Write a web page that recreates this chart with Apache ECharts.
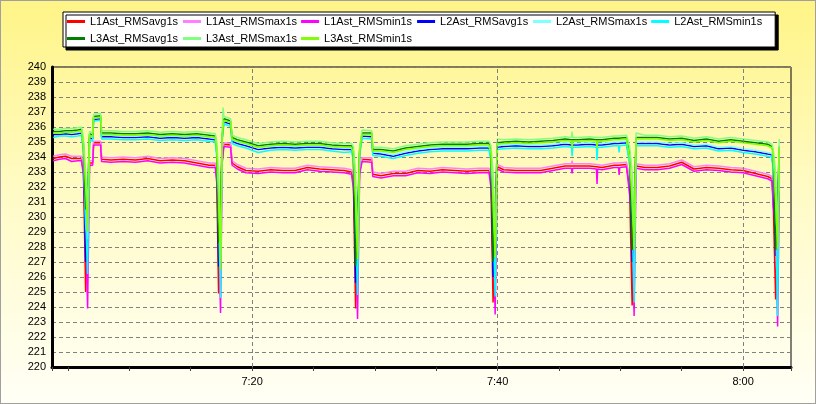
<!DOCTYPE html>
<html><head><meta charset="utf-8">
<script src="https://cdn.jsdelivr.net/npm/echarts/dist/echarts.min.js"></script>
<style>
html,body{margin:0;padding:0;}
#wrap{position:relative;width:816px;height:404px;background:linear-gradient(to bottom,#FFF486 0%,#FFFBC8 50%,#FFFFF6 100%);}
#chart{position:absolute;left:0;top:0;width:816px;height:404px;}
#frame{position:absolute;left:0;top:0;width:816px;height:404px;box-sizing:border-box;border:1px solid #A0A0A0;pointer-events:none;}
</style></head><body>
<div id="wrap"><div id="chart"></div><div id="frame"></div></div>
<script>
// time in minutes after 7:00
const times = [
3.8, 4.3, 4.8, 5.3, 5.8, 6.1,
6.26, 6.44, 6.60, 6.76, 7.01, 7.09, 7.66, 7.74,
8.5, 9.5, 10.5, 11.5, 12.5, 13.5, 14.5, 15.5, 16.5, 17.0,
17.12, 17.27, 17.43, 17.56, 17.64, 17.70, 18.25, 18.37,
18.8, 19.5, 20.5, 21.5, 22.5, 23.5, 24.5, 25.5, 26.5, 27.5, 28.1,
28.25, 28.43, 28.59, 28.76, 28.90, 28.96, 29.75, 29.83,
30.5, 31.5, 32.5, 33.5, 34.5, 35.5, 36.5, 37.5, 38.5, 39.3,
39.45, 39.63, 39.80, 39.98,
40.5, 41.5, 42.5, 43.5, 44.5, 45.5, 46.02, 46.07, 46.12, 46.5, 47.5, 48.05, 48.1, 48.15, 48.5, 49.5, 49.85, 49.9, 49.95, 50.5, 50.65,
50.75, 50.96, 51.12, 51.28,
52, 53, 54, 55, 56, 57, 58, 59, 60, 61, 62, 62.35,
62.45, 62.65, 62.81, 62.94
];
const l1Avg = [
233.9, 234.0, 234.05, 233.9, 233.9, 233.9,
233.0, 225.0, 229.8, 233.6, 233.6, 234.95, 234.95, 233.85,
233.8, 233.85, 233.8, 233.9, 233.75, 233.8, 233.75, 233.6, 233.45, 233.45,
232.6, 224.9, 229.5, 233.7, 233.7, 234.85, 234.8, 233.6,
233.35, 233.1, 233.05, 233.15, 233.1, 233.1, 233.3, 233.2, 233.15, 233.1, 233.0,
232.3, 223.9, 229.5, 233.0, 232.95, 233.85, 233.8, 232.85,
232.75, 232.9, 232.9, 233.1, 233.05, 233.15, 233.1, 233.05, 233.1, 233.1,
232.4, 224.3, 229.6, 233.35,
233.15, 233.1, 233.1, 233.1, 233.25, 233.4, 233.4, 233.4, 233.4, 233.4, 233.4, 233.35, 233.35, 233.35, 233.3, 233.45, 233.45, 233.45, 233.45, 233.5, 233.5,
232.0, 224.1, 229.7, 233.4,
233.3, 233.3, 233.4, 233.65, 233.2, 233.3, 233.25, 233.15, 233.1, 232.9, 232.7, 232.55,
231.0, 224.5, 229.8, 232.6
];
const l1Max = [
234.05, 234.15, 234.2, 234.05, 234.05, 234.05,
233.4, 229.0, 227.5, 233.75, 233.75, 235.05, 235.05, 234.0,
233.95, 234.0, 233.95, 234.05, 233.9, 233.95, 233.9, 233.75, 233.6, 233.6,
233.0, 229.0, 227.0, 233.85, 233.85, 234.95, 234.9, 233.75,
233.5, 233.25, 233.2, 233.3, 233.25, 233.25, 233.45, 233.35, 233.3, 233.25, 233.15,
232.8, 229.0, 227.0, 233.15, 233.1, 233.95, 233.95, 233.0,
232.9, 233.05, 233.05, 233.25, 233.2, 233.3, 233.25, 233.2, 233.25, 233.25,
232.9, 229.0, 227.0, 233.5,
233.3, 233.25, 233.25, 233.25, 233.4, 233.55, 233.55, 233.75, 233.55, 233.55, 233.55, 233.5, 233.5, 233.5, 233.45, 233.6, 233.6, 233.6, 233.6, 233.65, 233.65,
232.6, 229.0, 227.0, 233.55,
233.45, 233.45, 233.55, 233.8, 233.35, 233.45, 233.4, 233.3, 233.25, 233.05, 232.85, 232.7,
231.8, 229.0, 227.0, 232.75
];
const l1Min = [
233.75, 233.85, 233.9, 233.7, 233.75, 233.75,
232.8, 229.5, 223.9, 233.45, 233.45, 234.8, 234.8, 233.7,
233.65, 233.7, 233.65, 233.75, 233.6, 233.65, 233.6, 233.45, 233.3, 233.3,
232.3, 229.5, 223.6, 233.55, 233.55, 234.7, 234.65, 233.45,
233.2, 232.95, 232.9, 233.0, 232.95, 232.95, 233.15, 233.05, 233.0, 232.95, 232.85,
231.9, 229.5, 223.2, 232.85, 232.8, 233.7, 233.65, 232.7,
232.6, 232.75, 232.75, 232.95, 232.9, 233.0, 232.95, 232.9, 232.95, 232.95,
232.0, 229.5, 223.5, 233.2,
233.0, 232.95, 232.95, 232.95, 233.1, 233.25, 233.25, 232.9, 233.25, 233.25, 233.25, 233.2, 232.2, 233.2, 233.15, 233.3, 233.3, 232.8, 233.3, 233.35, 233.35,
231.5, 229.5, 223.4, 233.25,
233.15, 233.15, 233.25, 233.5, 233.05, 233.15, 233.1, 233.0, 232.95, 232.75, 232.55, 232.4,
230.7, 229.5, 222.7, 231.7
];
const l2Avg = [
235.5, 235.5, 235.55, 235.5, 235.55, 235.6,
234.6, 227.0, 229.5, 235.3, 235.2, 236.5, 236.55, 235.35,
235.35, 235.3, 235.3, 235.35, 235.25, 235.3, 235.25, 235.3, 235.2, 235.15,
234.3, 226.7, 229.0, 235.2, 235.2, 236.35, 236.2, 235.05,
234.9, 234.75, 234.5, 234.6, 234.65, 234.6, 234.65, 234.65, 234.55, 234.5, 234.5,
234.0, 225.6, 229.0, 234.25, 234.2, 235.4, 235.35, 234.25,
234.2, 234.05, 234.25, 234.4, 234.5, 234.55, 234.55, 234.55, 234.6, 234.6,
234.0, 226.0, 229.0, 234.65,
234.7, 234.75, 234.7, 234.7, 234.75, 234.85, 234.8, 234.8, 234.8, 234.8, 234.85, 234.8, 234.8, 234.8, 234.8, 234.9, 234.9, 234.9, 234.9, 234.95, 234.95,
233.8, 227.0, 229.5, 234.9,
234.9, 234.9, 234.8, 234.85, 234.7, 234.75, 234.55, 234.6, 234.45, 234.35, 234.2, 234.15,
233.2, 227.4, 229.8, 234.5
];
const l2Max = [
235.6, 235.6, 235.65, 235.6, 235.65, 235.7,
234.8, 229.5, 228.5, 235.4, 235.3, 236.6, 236.65, 235.45,
235.45, 235.4, 235.4, 235.45, 235.35, 235.4, 235.35, 235.4, 235.3, 235.25,
234.5, 229.5, 228.0, 235.3, 235.3, 236.45, 236.3, 235.15,
235.0, 234.85, 234.6, 234.7, 234.75, 234.7, 234.75, 234.75, 234.65, 234.6, 234.6,
234.2, 229.5, 228.0, 234.35, 234.3, 235.5, 235.45, 234.35,
234.3, 234.15, 234.35, 234.5, 234.6, 234.65, 234.65, 234.65, 234.7, 234.7,
234.2, 229.5, 228.0, 234.75,
234.8, 234.85, 234.8, 234.8, 234.85, 234.95, 234.9, 234.9, 234.9, 234.9, 234.95, 234.9, 234.9, 234.9, 234.9, 235.0, 235.0, 235.0, 235.0, 235.05, 235.05,
234.0, 229.5, 228.0, 235.0,
235.0, 235.0, 234.9, 234.95, 234.8, 234.85, 234.65, 234.7, 234.55, 234.45, 234.3, 234.25,
233.5, 229.5, 228.0, 234.6
];
const l2Min = [
235.3, 235.4, 235.4, 235.35, 235.4, 235.45,
234.4, 230.0, 226.2, 235.15, 235.05, 236.4, 236.45, 235.2,
235.2, 235.15, 235.15, 235.2, 235.1, 235.15, 235.1, 235.15, 235.05, 235.0,
234.0, 230.0, 224.6, 235.05, 235.05, 236.2, 236.05, 234.9,
234.75, 234.6, 234.3, 234.45, 234.5, 234.45, 234.5, 234.5, 234.4, 234.3, 234.35,
233.8, 230.0, 224.8, 234.1, 234.05, 235.25, 235.2, 234.1,
234.05, 233.9, 234.1, 234.25, 234.35, 234.4, 234.4, 234.4, 234.45, 234.45,
233.8, 230.0, 224.7, 234.5,
234.55, 234.6, 234.55, 234.55, 234.6, 234.7, 234.65, 234.05, 234.65, 234.65, 234.7, 234.65, 233.8, 234.65, 234.65, 234.75, 234.75, 234.3, 234.75, 234.8, 234.8,
233.5, 230.0, 224.3, 234.75,
234.75, 234.75, 234.65, 234.7, 234.55, 234.6, 234.4, 234.45, 234.3, 234.2, 234.05, 234.0,
233.0, 230.0, 223.4, 234.35
];
const l3Avg = [
235.7, 235.7, 235.75, 235.75, 235.8, 235.85,
234.9, 230.5, 231.5, 235.55, 235.45, 236.7, 236.75, 235.6,
235.6, 235.55, 235.55, 235.6, 235.5, 235.55, 235.5, 235.55, 235.45, 235.4,
234.6, 228.3, 230.5, 235.45, 235.45, 236.55, 236.4, 235.3,
235.15, 235.0, 234.75, 234.85, 234.9, 234.85, 234.9, 234.9, 234.8, 234.75, 234.75,
234.4, 226.7, 230.0, 234.5, 234.45, 235.6, 235.6, 234.5,
234.5, 234.4, 234.6, 234.7, 234.8, 234.85, 234.85, 234.85, 234.9, 234.9,
234.5, 227.0, 230.5, 234.95,
235.0, 235.05, 235.0, 235.05, 235.1, 235.2, 235.15, 235.15, 235.15, 235.15, 235.2, 235.15, 235.15, 235.15, 235.15, 235.25, 235.25, 235.25, 235.25, 235.3, 235.3,
234.3, 227.8, 230.8, 235.3,
235.3, 235.3, 235.2, 235.25, 235.1, 235.2, 235.05, 235.15, 235.05, 234.95, 234.85, 234.7,
234.3, 227.8, 231.0, 234.7
];
const l3Max = [
235.85, 235.85, 235.9, 235.9, 235.95, 236.0,
235.3, 233.0, 230.5, 235.7, 235.6, 236.85, 236.9, 235.75,
235.75, 235.7, 235.7, 235.75, 235.65, 235.7, 235.65, 235.7, 235.6, 235.55,
235.0, 233.0, 227.0, 235.6, 237.3, 236.7, 236.55, 235.45,
235.3, 235.15, 234.9, 235.0, 235.05, 235.0, 235.05, 235.05, 234.95, 234.9, 234.9,
234.7, 233.0, 227.7, 234.65, 234.6, 235.8, 235.75, 234.65,
234.65, 234.55, 234.75, 234.85, 234.95, 235.0, 235.0, 235.0, 235.05, 235.05,
234.8, 233.0, 227.8, 235.2,
235.15, 235.2, 235.15, 235.2, 235.25, 235.35, 235.3, 235.7, 235.3, 235.3, 235.35, 235.3, 235.3, 235.3, 235.3, 235.4, 235.4, 235.4, 235.4, 235.45, 235.45,
234.7, 233.0, 228.3, 235.6,
235.45, 235.45, 235.35, 235.4, 235.25, 235.35, 235.2, 235.3, 235.2, 235.1, 235.0, 234.85,
234.5, 233.0, 228.4, 235.2
];
const l3Min = [
235.6, 235.6, 235.65, 235.65, 235.7, 235.75,
234.7, 232.0, 229.0, 235.45, 235.35, 236.6, 236.65, 235.5,
235.5, 235.45, 235.45, 235.5, 235.4, 235.45, 235.4, 235.45, 235.35, 235.3,
234.4, 231.0, 226.5, 235.35, 235.35, 236.45, 236.3, 235.2,
235.05, 234.9, 234.65, 234.75, 234.8, 234.75, 234.8, 234.8, 234.7, 234.65, 234.65,
234.2, 231.0, 227.2, 234.4, 234.35, 235.5, 235.5, 234.4,
234.4, 234.3, 234.5, 234.6, 234.7, 234.75, 234.75, 234.75, 234.8, 234.8,
234.3, 231.0, 227.3, 234.85,
234.9, 234.95, 234.9, 234.95, 235.0, 235.1, 235.05, 234.6, 235.05, 235.05, 235.1, 235.05, 234.6, 235.05, 235.05, 235.15, 235.15, 235.15, 235.15, 235.2, 235.2,
234.0, 231.0, 227.8, 235.2,
235.2, 235.2, 235.1, 235.15, 235.0, 235.1, 234.95, 235.05, 234.95, 234.85, 234.75, 234.6,
234.0, 231.0, 227.9, 234.6
];
const seriesNames = ['L1Ast_RMSavg1s','L1Ast_RMSmax1s','L1Ast_RMSmin1s','L2Ast_RMSavg1s','L2Ast_RMSmax1s','L2Ast_RMSmin1s','L3Ast_RMSavg1s','L3Ast_RMSmax1s','L3Ast_RMSmin1s'];
const gridMinutes = [20, 40, 60];
const xTickLabels = ['7:20', '7:40', '8:00'];

const seriesValues = [l1Avg, l1Max, l1Min, l2Avg, l2Max, l2Min, l3Avg, l3Max, l3Min];
const colors = ['#FF0000','#FF80FF','#FF00FF','#0000FF','#80FFFF','#00FFFF','#008000','#80FF80','#80FF00'];
const FONT = '"Liberation Sans", Arial, sans-serif';

const chart = echarts.init(document.getElementById('chart'), null, {renderer: 'canvas'});
const series = seriesNames.map((n, i) => ({
  name: n, type: 'line', z: 3,
  data: times.map((t, j) => [t, seriesValues[i][j]]),
  showSymbol: false, symbol: 'none',
  lineStyle: {color: colors[i], width: 1.5},
  itemStyle: {color: colors[i]},
  emphasis: {disabled: true},
  animation: false
}));
series.unshift({
  type: 'line', z: 1, data: [], silent: true, animation: false,
  markLine: {
    silent: true, symbol: ['none', 'none'], label: {show: false}, animation: false,
    lineStyle: {color: '#808080', type: [4, 3], width: 1},
    data: gridMinutes.map(m => ({xAxis: m}))
  }
});

chart.setOption({
  backgroundColor: 'transparent',
  animation: false,
  textStyle: {fontFamily: FONT},
  legend: {
    data: seriesNames,
    left: 63, top: 12, width: 700,
    orient: 'horizontal',
    padding: [3, 12, 2, 4],
    itemGap: 4,
    itemWidth: 18, itemHeight: 3,
    icon: 'rect',
    backgroundColor: '#FFFFFF',
    borderColor: '#000000', borderWidth: 1, borderRadius: 0,
    shadowColor: '#000000', shadowBlur: 0, shadowOffsetX: 3, shadowOffsetY: 3,
    textStyle: {fontSize: 11, color: '#000', fontFamily: FONT, width: 89, lineHeight: 13},
    selectedMode: false
  },
  grid: {left: 52, right: 25, top: 67, bottom: 37, show: true, borderColor: '#000', borderWidth: 1, backgroundColor: 'transparent'},
  xAxis: {
    type: 'value', min: 3.7, max: 63.9, splitNumber: 12,
    axisLine: {show: true, onZero: false, lineStyle: {color: '#000', width: 3}},
    axisTick: {show: true, length: 4, lineStyle: {color: '#404040', width: 1}},
    axisLabel: {
      fontSize: 11, color: '#000', margin: 9, fontFamily: FONT,
      showMinLabel: true, showMaxLabel: true,
      formatter: v => {
        const k = gridMinutes.findIndex(m => Math.abs(m - v) < 1e-6);
        return k >= 0 ? xTickLabels[k] : '';
      }
    },
    splitLine: {show: false}
  },
  yAxis: {
    type: 'value', min: 220, max: 240, interval: 1,
    axisLine: {show: true, lineStyle: {color: '#000', width: 3}},
    axisTick: {show: false},
    axisLabel: {fontSize: 11, color: '#000', margin: 6, fontFamily: FONT},
    splitLine: {show: true, lineStyle: {color: '#808080', type: [4, 3], width: 1}}
  },
  series: series
});
</script>
</body></html>
